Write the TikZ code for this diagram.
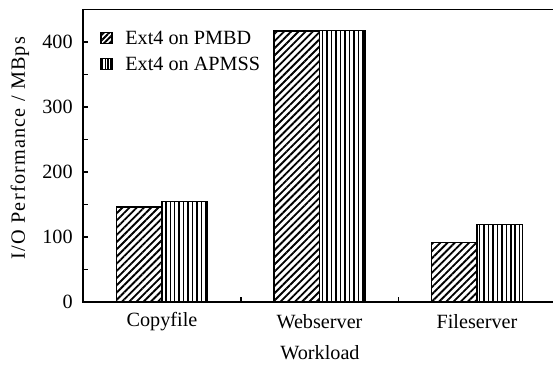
\documentclass[tikz,border=0pt]{standalone}
\usepackage{fontspec}
\setmainfont{Liberation Serif}
\newfontfamily\spacedfont[LetterSpace=6]{Liberation Serif}
\usetikzlibrary{patterns.meta}

\tikzset{
  axisline/.style={line width=0.85pt},
  barA/.style={draw, line width=0.8pt, pattern={Lines[angle=45,distance=2.9pt,line width=1.05pt]}},
  barB/.style={draw, line width=0.8pt, pattern={Lines[angle=90,distance=2.55pt,line width=0.85pt]}},
  keyA/.style={draw, line width=0.8pt, pattern={Lines[angle=45,distance=2.2pt,line width=1.1pt]}},
  keyB/.style={draw, line width=0.8pt, pattern={Lines[angle=90,distance=1.5pt,line width=0.8pt]}},
  ticklab/.style={anchor=east, inner sep=0pt},
}

\begin{document}
\begin{tikzpicture}[x=0.02cm,y=0.02cm,font=\fontsize{11.5}{13}\selectfont]
\useasboundingbox (-83,-64) rectangle (470,302);
% bars (y = 0.65 per MBps)
\draw[barA] (33.5,0) rectangle (79,{0.65*146});
\draw[barB] (79,0) rectangle (124.5,{0.65*155});
\draw[barA] (191,0) rectangle (236.5,{0.65*417});
\draw[barB] (236.5,0) rectangle (282,{0.65*418});
\draw[barA] (348.5,0) rectangle (394,{0.65*92});
\draw[barB] (394,0) rectangle (439.5,{0.65*119});
% frame and ticks
\draw[axisline] (0,0) rectangle (474,292.5);
\foreach \v in {50,100,...,400}
  \draw[axisline] (0,{0.65*\v}) -- (4.5,{0.65*\v});
\foreach \v in {0,100,...,400}
  \node[ticklab] (ylab\v) at (-10,{0.65*\v}) {\v};
\draw[axisline] (158,0) -- (158,5);
\draw[axisline] (315.5,0) -- (315.5,5);
% categories
\node (copy) at (79,-20) {Copyfile};
\node (web) at (236.5,-20) {Webserver};
\node (file) at (394,-20) {Fileserver};
\node (xlab) at (237,-51) {Workload};
\node[rotate=90] (ylab) at (-63,154) {\spacedfont I/O Performance / MBps};
% legend
\draw[keyA] (18,258.5) rectangle (29,269.5);
\node[anchor=west, inner sep=0pt] (legA) at (42,264) {Ext4 on PMBD};
\draw[keyB] (18,232.5) rectangle (29,243.5);
\node[anchor=west, inner sep=0pt] (legB) at (42,238) {Ext4 on APMSS};
\end{tikzpicture}
\end{document}
